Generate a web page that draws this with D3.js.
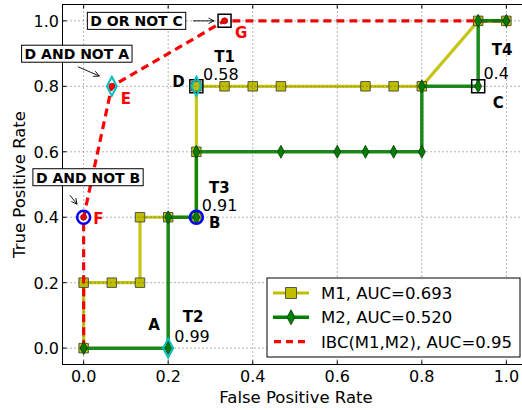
<!DOCTYPE html>
<html>
<head>
<meta charset="utf-8">
<script src="https://cdn.jsdelivr.net/npm/d3@7"></script>
<style>
  body { margin: 0; background: #fff; }
  text { font-family: "DejaVu Sans", sans-serif; }
</style>
</head>
<body>
<svg id="roc" width="522" height="410"></svg>
<script>
// ROC points (15 negatives, 5 positives)
const m1Fpr = [0, 0, 1/15, 2/15, 2/15, 3/15, 4/15, 4/15, 4/15, 5/15, 6/15, 7/15, 10/15, 11/15, 12/15, 14/15, 1];
const m1Tpr = [0, 0.2, 0.2, 0.2, 0.4, 0.4, 0.4, 0.6, 0.8, 0.8, 0.8, 0.8, 0.8, 0.8, 0.8, 1, 1];
const m2Fpr = [0, 3/15, 3/15, 4/15, 4/15, 7/15, 9/15, 10/15, 11/15, 12/15, 12/15, 14/15, 14/15, 1];
const m2Tpr = [0, 0, 0.4, 0.4, 0.6, 0.6, 0.6, 0.6, 0.6, 0.6, 0.8, 0.8, 1, 1];
const ibcFpr = [0, 0, 1/15, 5/15, 1];
const ibcTpr = [0, 0.4, 0.8, 1, 1];
const legendLabels = ["M1, AUC=0.693", "M2, AUC=0.520", "IBC(M1,M2), AUC=0.95"];
const ticks = [0, 0.2, 0.4, 0.6, 0.8, 1.0];

// highlighted operating points
const ptNames = ["A", "B", "C", "D", "E", "F", "G"];
const ptFpr = [3/15, 4/15, 14/15, 4/15, 1/15, 0, 5/15];
const ptTpr = [0, 0.4, 0.8, 0.8, 0.8, 0.4, 1];
const thrNames = ["T1", "T2", "T3", "T4"];
const thrValues = ["0.58", "0.99", "0.91", "0.4"];
const boxTexts = ["D OR NOT C", "D AND NOT A", "D AND NOT B"];

const svg = d3.select("#roc");
const x = d3.scaleLinear().domain([-0.05, 1.05]).range([62.5, 527.5]);
const y = d3.scaleLinear().domain([-0.05, 1.05]).range([364.5, 4.5]);
const P = (name) => { const i = ptNames.indexOf(name); return [x(ptFpr[i]), y(ptTpr[i])]; };

const line = d3.line().x(d => x(d[0])).y(d => y(d[1]));
const zip = (a, b) => a.map((v, i) => [v, b[i]]);

function squarePath(s) { const h = s / 2; return `M${-h},${-h}H${h}V${h}H${-h}Z`; }
function diamondPath(w, h) { return `M0,${-h/2}L${w/2},0L0,${h/2}L${-w/2},0Z`; }

const YEL = "#bfbf00", GRN = "#008000";

// M1
const m1 = zip(m1Fpr, m1Tpr);
svg.append("path").attr("d", line(m1)).attr("fill", "none")
  .attr("stroke", YEL).attr("stroke-width", 3.2).attr("opacity", 0.9);
svg.append("g").selectAll("path").data(m1).join("path")
  .attr("transform", d => `translate(${x(d[0])},${y(d[1])})`)
  .attr("d", squarePath(9.5)).attr("fill", YEL).attr("stroke", "#333").attr("stroke-width", 0.8);

// IBC
const ibc = zip(ibcFpr, ibcTpr);
svg.append("path").attr("d", line(ibc)).attr("fill", "none")
  .attr("stroke", "#ff0000").attr("stroke-width", 3.2).attr("stroke-dasharray", "8,5");
svg.append("g").selectAll("circle").data(ibc).join("circle")
  .attr("cx", d => x(d[0])).attr("cy", d => y(d[1])).attr("r", 3)
  .attr("fill", "#ff0000").attr("stroke", "#990000").attr("stroke-width", 0.8);

// M2
const m2 = zip(m2Fpr, m2Tpr);
svg.append("path").attr("d", line(m2)).attr("fill", "none")
  .attr("stroke", GRN).attr("stroke-width", 3.5).attr("opacity", 0.9);
svg.append("g").selectAll("path").data(m2).join("path")
  .attr("transform", d => `translate(${x(d[0])},${y(d[1])})`)
  .attr("d", diamondPath(7, 13)).attr("fill", GRN).attr("stroke", "#0a3a0a").attr("stroke-width", 0.8);

// grid (drawn over the curves)
const grid = svg.append("g").attr("stroke", "#444").attr("stroke-width", 0.8)
  .attr("stroke-dasharray", "1,3");
grid.selectAll(".gx").data(ticks).join("line")
  .attr("x1", d => x(d)).attr("x2", d => x(d)).attr("y1", y(-0.05)).attr("y2", y(1.05));
grid.selectAll(".gy").data(ticks).join("line")
  .attr("y1", d => y(d)).attr("y2", d => y(d)).attr("x1", x(-0.05)).attr("x2", x(1.05));

// highlighted markers
const circ = ["B", "F"], dia = ["A", "D", "E"], sq = ["C", "D", "G"];
svg.append("g").selectAll("path").data(sq).join("path")
  .attr("transform", d => `translate(${P(d)})`)
  .attr("d", squarePath(13)).attr("fill", "none").attr("stroke", "#000").attr("stroke-width", 1.5);
svg.append("g").selectAll("path").data(dia).join("path")
  .attr("transform", d => `translate(${P(d)})`)
  .attr("d", diamondPath(10, 19)).attr("fill", "none").attr("stroke", "#00bfbf").attr("stroke-width", 2);
svg.append("g").selectAll("circle").data(circ).join("circle")
  .attr("cx", d => P(d)[0]).attr("cy", d => P(d)[1]).attr("r", 6.5)
  .attr("fill", "none").attr("stroke", "#0000ff").attr("stroke-width", 2.5);

// axes frame and ticks
svg.append("rect").attr("x", x(-0.05)).attr("y", y(1.05))
  .attr("width", x(1.05) - x(-0.05)).attr("height", y(-0.05) - y(1.05))
  .attr("fill", "none").attr("stroke", "#000").attr("stroke-width", 1);
const tk = svg.append("g").attr("stroke", "#000").attr("stroke-width", 1);
ticks.forEach(t => {
  tk.append("line").attr("x1", x(t)).attr("x2", x(t)).attr("y1", y(-0.05)).attr("y2", y(-0.05) - 4);
  tk.append("line").attr("x1", x(t)).attr("x2", x(t)).attr("y1", y(1.05)).attr("y2", y(1.05) + 4);
  tk.append("line").attr("y1", y(t)).attr("y2", y(t)).attr("x1", x(-0.05)).attr("x2", x(-0.05) + 4);
});
svg.append("g").selectAll("text").data(ticks).join("text")
  .attr("x", d => x(d)).attr("y", 382).attr("text-anchor", "middle")
  .attr("font-size", 16).text(d => d.toFixed(1));
svg.append("g").selectAll("text").data(ticks).join("text")
  .attr("x", 59).attr("y", d => y(d) + 6).attr("text-anchor", "end")
  .attr("font-size", 16).text(d => d.toFixed(1));
svg.append("text").attr("x", 296).attr("y", 403).attr("text-anchor", "middle")
  .attr("font-size", 16.5).text("False Positive Rate");
svg.append("text").attr("transform", `translate(25,${(y(-0.05) + y(1.05)) / 2}) rotate(-90)`)
  .attr("text-anchor", "middle").attr("font-size", 16.5).text("True Positive Rate");

// point letters
const letterOff = { A: [-20, -18, "#000"], B: [12.7, 10.4, "#000"], C: [14.6, 22, "#000"],
  D: [-24, 0.5, "#000"], E: [9, 18, "#f00"], F: [9.5, 7, "#f00"], G: [10.5, 17, "#f00"] };
svg.append("g").selectAll("text").data(ptNames).join("text")
  .attr("x", d => P(d)[0] + letterOff[d][0]).attr("y", d => P(d)[1] + letterOff[d][1])
  .attr("fill", d => letterOff[d][2]).attr("font-weight", "bold").attr("font-size", 15)
  .text(d => d);

// thresholds next to D, A, B, C
const thrAt = ["D", "A", "B", "C"];
const thrOff = [[18, -24.6, 6.7, -6.3], [14.6, -26.4, 6, -5.8], [12.7, -24.6, 5.4, -6.2], [13.6, -31.3, 5.2, -7.3]];
thrNames.forEach((n, i) => {
  const p = P(thrAt[i]), o = thrOff[i];
  svg.append("text").attr("x", p[0] + o[0]).attr("y", p[1] + o[1])
    .attr("font-weight", "bold").attr("font-size", 15).text(n);
  svg.append("text").attr("x", p[0] + o[2]).attr("y", p[1] + o[3])
    .attr("font-size", 16).text(thrValues[i]);
});

// boxed annotations with arrows
const boxAt = ["G", "E", "F"];
const boxOff = [[-88, 0], [-35, -32.6], [4.4, -40]];
const arrOff = [[-31.5, 0, -10.5, 0], [-34, -19.6, -12.5, -10.3], [-13.6, -22, -6.6, -13]];
svg.append("defs").append("marker").attr("id", "ah").attr("viewBox", "0 0 10 10")
  .attr("refX", 9).attr("refY", 5).attr("markerWidth", 7).attr("markerHeight", 7)
  .attr("markerUnits", "userSpaceOnUse").attr("orient", "auto")
  .append("path").attr("d", "M1,1L9,5L1,9").attr("fill", "none").attr("stroke", "#000").attr("stroke-width", 1.2);
boxTexts.forEach((t, i) => {
  const p = P(boxAt[i]);
  const g = svg.append("g").attr("transform", `translate(${p[0] + boxOff[i][0]},${p[1] + boxOff[i][1]})`);
  const txt = g.append("text").attr("text-anchor", "middle").attr("y", 5.5)
    .attr("font-weight", "bold").attr("font-size", 14).text(t);
  const w = txt.node().getComputedTextLength();
  g.insert("rect", "text").attr("x", -w / 2 - 3).attr("y", -8.5).attr("width", w + 6).attr("height", 17)
    .attr("fill", "#fff").attr("stroke", "#000").attr("stroke-width", 1);
  const a = arrOff[i];
  svg.append("line").attr("x1", p[0] + a[0]).attr("y1", p[1] + a[1])
    .attr("x2", p[0] + a[2]).attr("y2", p[1] + a[3])
    .attr("stroke", "#000").attr("stroke-width", 0.9).attr("marker-end", "url(#ah)");
});

// legend
const lg = svg.append("g").attr("transform", "translate(267,278)");
lg.append("rect").attr("width", 253).attr("height", 79)
  .attr("fill", "#fff").attr("stroke", "#000").attr("stroke-width", 1);
const rows = lg.selectAll("g").data(legendLabels).join("g")
  .attr("transform", (d, i) => `translate(0,${15 + i * 24.3})`);
rows.append("text").attr("x", 54).attr("y", 6).attr("font-size", 16.5).text(d => d);
rows.filter((d, i) => i === 0).append("line").attr("x1", 6).attr("x2", 42)
  .attr("stroke", YEL).attr("stroke-width", 3.2);
rows.filter((d, i) => i === 0).append("path").attr("transform", "translate(24,0)")
  .attr("d", squarePath(11)).attr("fill", YEL).attr("stroke", "#333").attr("stroke-width", 0.8);
rows.filter((d, i) => i === 1).append("line").attr("x1", 6).attr("x2", 42)
  .attr("stroke", GRN).attr("stroke-width", 3.5);
rows.filter((d, i) => i === 1).append("path").attr("transform", "translate(24,0)")
  .attr("d", diamondPath(8, 15)).attr("fill", GRN).attr("stroke", "#0a3a0a").attr("stroke-width", 0.8);
rows.filter((d, i) => i === 2).append("line").attr("x1", 7).attr("x2", 42)
  .attr("stroke", "#ff0000").attr("stroke-width", 3.2).attr("stroke-dasharray", "7,5");
</script>
</body>
</html>
